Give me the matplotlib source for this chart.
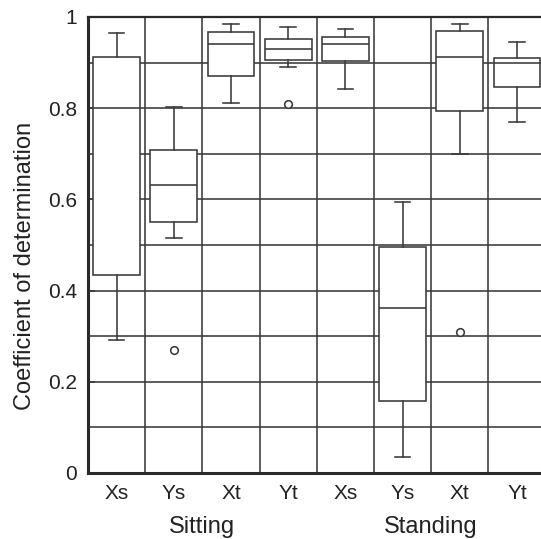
import matplotlib
matplotlib.use("Agg")
import matplotlib.pyplot as plt

# box statistics (order: Sitting Xs Ys Xt Yt, Standing Xs Ys Xt Yt)
labels = ["Xs", "Ys", "Xt", "Yt", "Xs", "Ys", "Xt", "Yt"]
whis_hi = [0.965, 0.803, 0.984, 0.978, 0.973, 0.595, 0.984, 0.945]
q3 = [0.912, 0.708, 0.967, 0.951, 0.957, 0.495, 0.970, 0.910]
med = [0.800, 0.631, 0.941, 0.929, 0.941, 0.362, 0.912, 0.899]
q1 = [0.434, 0.551, 0.870, 0.905, 0.903, 0.158, 0.794, 0.847]
whis_lo = [0.292, 0.515, 0.812, 0.890, 0.842, 0.035, 0.700, 0.770]
fliers = [[], [0.270], [], [0.809], [], [], [0.309], []]
groups = ["Sitting", "Standing"]

LC = "#3a3a3a"
TC = "#222222"
plt.rcParams["font.family"] = ["Liberation Sans", "DejaVu Sans"]

fig = plt.figure(figsize=(5.41, 5.39), dpi=100)
ax = fig.add_axes([88 / 541, 66 / 539, 457.6 / 541, 456 / 539])

stats = []
for i in range(len(labels)):
    stats.append(dict(med=med[i], q1=q1[i], q3=q3[i], whislo=whis_lo[i],
                      whishi=whis_hi[i], fliers=fliers[i], label=labels[i]))

pos = [i + 0.5 for i in range(len(labels))]
ax.bxp(stats, positions=pos, widths=0.82, patch_artist=True, capwidths=0.27,
       boxprops=dict(facecolor="white", edgecolor=LC, linewidth=1.15),
       medianprops=dict(color=LC, linewidth=1.15),
       whiskerprops=dict(color=LC, linewidth=1.15),
       capprops=dict(color=LC, linewidth=1.15),
       flierprops=dict(marker="o", markersize=5.5, markerfacecolor="white",
                       markeredgecolor=LC, markeredgewidth=1.15),
       zorder=3)

# grid
for y in [i / 10 for i in range(1, 10)]:
    ax.axhline(y, color=LC, linewidth=1.15, zorder=1)
for x in range(1, len(labels)):
    ax.axvline(x, color=LC, linewidth=1.15, zorder=1)

ax.set_xlim(0, len(labels))
ax.set_ylim(0, 1)
ax.set_yticks([0, 0.2, 0.4, 0.6, 0.8, 1])
ax.set_yticklabels(["0", "0.2", "0.4", "0.6", "0.8", "1"])
ax.set_xticks(pos)
ax.set_xticklabels(labels)
ax.tick_params(axis="x", length=0, labelsize=15, pad=8, colors=TC)
ax.tick_params(axis="y", direction="in", length=5, width=1.1, color=LC,
               labelsize=15, pad=8, labelcolor=TC)

for s in ["left", "bottom"]:
    ax.spines[s].set_linewidth(2.2)
    ax.spines[s].set_color("#2a2a2a")
ax.spines["top"].set_linewidth(1.6)
ax.spines["top"].set_color("#2a2a2a")
ax.spines["right"].set_visible(False)

ax.set_ylabel("Coefficient of determination", fontsize=17, color=TC, va="center")
ax.yaxis.set_label_coords(-0.138, 0.455)

for g, xc in zip(groups, [2, 6]):
    ax.text(xc, -0.118, g, ha="center", va="center", fontsize=17, color=TC)

fig.savefig("out.png", dpi=100)
